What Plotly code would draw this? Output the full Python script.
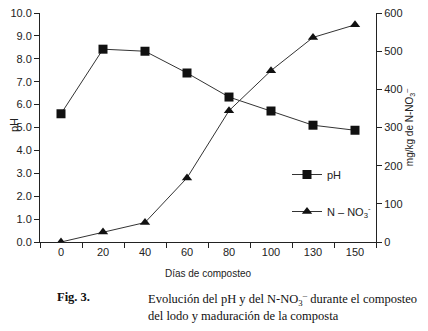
import plotly.graph_objects as go

dias = ["0", "20", "40", "60", "80", "100", "130", "150"]
ph = [5.6, 8.42, 8.33, 7.38, 6.33, 5.72, 5.1, 4.88]
nno3 = [0, 26, 51, 168, 344, 449, 536, 569]

LINE = "#333333"
fig = go.Figure()
fig.add_trace(go.Scatter(
    x=dias, y=ph, name="pH", mode="lines+markers", legendgroup="a",
    line=dict(color=LINE, width=1),
    marker=dict(symbol="square", size=9, color="#111111"),
))
fig.add_trace(go.Scatter(
    x=dias, y=nno3, name="N \u2013 NO<sub>3</sub><sup>-</sup>", mode="lines+markers",
    legendgroup="b", yaxis="y2",
    line=dict(color=LINE, width=1),
    marker=dict(symbol="triangle-up", size=9, color="#111111"),
))

axfont = dict(family="Liberation Sans, Arial", size=11, color="#222222")
# page body has an 8px default margin, so the figure is 8px smaller and margins shifted
fig.update_layout(
    width=420, height=323,
    margin=dict(l=32, r=52, t=5, b=89, autoexpand=False),
    paper_bgcolor="white", plot_bgcolor="white",
    font=axfont,
    showlegend=True,
    legend=dict(x=(287 - 40) / 336, y=(242 - 193) / 229, xanchor="left", yanchor="middle",
                bgcolor="rgba(0,0,0,0)", font=axfont, tracegroupgap=18,
                itemwidth=30),
    xaxis=dict(type="category", tickson="boundaries", showline=True, automargin=False,
               linecolor="#222222", linewidth=1, ticks="outside", ticklen=5,
               tickcolor="#222222", showgrid=False, zeroline=False,
               title=dict(text="Días de composteo", font=dict(size=10), standoff=12),
               range=[-0.5, 7.5]),
    yaxis=dict(range=[0, 10], dtick=1, tickformat=".1f", showline=True, automargin=False,
               linecolor="#222222", linewidth=1, ticks="outside", ticklen=5,
               tickcolor="#222222", showgrid=False, zeroline=False,
               ticklabeloverflow="allow"),
    yaxis2=dict(range=[0, 600], dtick=100, overlaying="y", side="right", automargin=False,
                showline=True, linecolor="#222222", linewidth=1,
                ticks="outside", ticklen=5, tickcolor="#222222",
                showgrid=False, zeroline=False, ticklabeloverflow="allow",
                title=dict(text="mg/kg de N-NO<sub>3</sub><sup>\u2013</sup>",
                           font=dict(size=10), standoff=4)),
)

# left axis title
fig.add_annotation(xref="paper", yref="paper", x=(14 - 40) / 336, y=(242 - 125) / 229,
                   xanchor="center", yanchor="middle", showarrow=False, textangle=-90,
                   text="pH", font=dict(size=11, color="#222222"))

serif = "Liberation Serif, Times New Roman, serif"
ytop = (242 - 288) / 229
fig.add_annotation(xref="paper", yref="paper", x=(55 - 40) / 336, y=ytop,
                   xanchor="left", yanchor="top", showarrow=False,
                   text="<b>Fig. 3.</b>", font=dict(family=serif, size=12.5, color="#111111"))
fig.add_annotation(xref="paper", yref="paper", x=(146 - 40) / 336, y=ytop,
                   xanchor="left", yanchor="top", showarrow=False, align="left",
                   text="Evolución del pH y del N-NO<sub>3</sub><sup>\u2013</sup> durante el composteo<br>del lodo y maduración de la composta",
                   font=dict(family=serif, size=12.5, color="#111111"))

fig.write_html("out.html")
